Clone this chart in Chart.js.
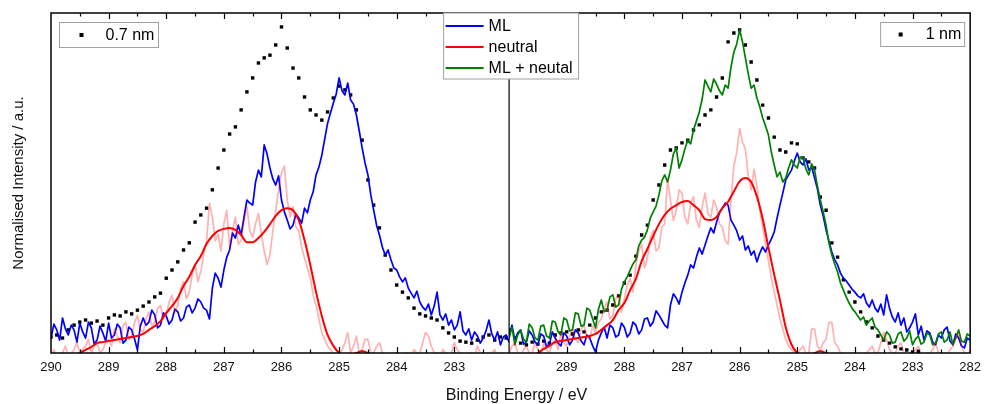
<!DOCTYPE html>
<html>
<head>
<meta charset="utf-8">
<script src="https://cdn.jsdelivr.net/npm/chart.js@4.4.0/dist/chart.umd.min.js"></script>
<style>
    html, body { margin: 0; padding: 0; background: #fff; }
    #wrap { width: 988px; height: 404px; }
</style>
</head>
<body>
<div id="wrap"><canvas id="xps" width="988" height="404"></canvas></div>
<script>
// binding energy grids, high -> low
// measured points and fitted components: 0.1 eV, noisy spectra: 0.05 eV
let energy_left = []
for (let e = 2900; e >= 2821; e--) energy_left.push(e / 10)
let energy_right = []
for (let e = 2900; e >= 2820; e--) energy_right.push(e / 10)
let energy_left_fine = []
for (let e = 29000; e >= 28205; e -= 5) energy_left_fine.push(e / 100)
let energy_right_fine = []
for (let e = 29000; e >= 28200; e -= 5) energy_right_fine.push(e / 100)

let tick_values = [290, 289.5, 289, 288.5, 288, 287.5, 287, 286.5, 286, 285.5, 285, 284.5, 284, 283.5, 283, 282.5, 282]

// ---- 0.7 nm panel ----
let dots_07 = [
    4.7, 5.3, 4.4, 6.8, 8.2, 9.1, 9.7, 8.8, 9.4, 8.2,
    10.3, 11.2, 10.9, 12.1, 11.5, 12.6, 13.8, 15, 16.5, 17.6,
    22, 24.4, 26.8, 30.3, 32.4, 38.5, 40.6, 42.6, 48, 54.4,
    59.7, 64.4, 66.5, 71.5, 76.8, 80.9, 85.3, 86.8, 87.6, 90.6,
    95.9, 89.7, 83.8, 80.9, 75.3, 71.5, 70, 68.5, 70.9, 75,
    78.5, 77.4, 75.9, 71.5, 62.6, 50.9, 43.5, 36.8, 28.8, 24.4,
    20, 17.9, 16.2, 13.2, 11.5, 10.9, 10.3, 9.7, 7.4, 5.9,
    4.7, 3.5, 3.2, 2.9, 3.8, 4.7, 5.3, 3.8, 4.7, 4.4
]
let neutral_left = [
    -2, -2, -2, -2, -1, 0, 0.9, 1.8, 2.9, 3.2,
    3.5, 3.8, 4.1, 4.4, 4.7, 5, 5.6, 6.8, 7.9, 9.4,
    11.8, 13.8, 16.2, 19.7, 22.4, 25.9, 28.5, 32.1, 34.4, 35.9,
    36.5, 36.8, 36.2, 34.7, 32.6, 32.6, 33.8, 35.6, 37.9, 40.3,
    42, 42.6, 42, 39.1, 33.2, 25.9, 17.9, 10.9, 5.3, 2.1,
    0, -1, -1, 0, 0.6, 0, -1, -1, -1, -1,
    -1, -1, -1, -1, -1, -1, -1, -1, -1, -1,
    -1, -1, -1, -1, -1, -1, -1, -1, -1, -1
]
let ml_left = [
    4.4, 8.5, 6.8, 3.8, 10.3, 7.1, 5.3, 8.2, 6.8, 3.2,
    8.8, 6.2, 4.4, 9.1, 7.4, 2.6, 3.8, 7.9, 5.9, 3.5,
    8.8, 4.4, 5.3, 8.5, 7.4, 2.9, 3.8, 7.6, 6.8, 4.1,
    0.9, 7.9, 10.3, 8.2, 9.1, 12.6, 11.2, 7.4, 8.2, 11.8,
    10.9, 8.5, 9.7, 12.9, 12.1, 9.4, 10.3, 13.5, 14.1, 11.8,
    13.2, 15.9, 15, 13.2, 12.6, 10, 19.1, 23.5, 22, 19.4,
    24.4, 28.2, 30.3, 35.3, 33.8, 37.6, 34.7, 40, 45, 44.1,
    43.5, 50.3, 53.8, 51.8, 61.2, 58.5, 54.4, 51.2, 49.4, 52.1,
    45, 41.5, 39.1, 36.5, 37.6, 40.9, 39.7, 38.2, 42.6, 41.2,
    45, 47.4, 52.4, 54.7, 58.2, 62.9, 67.6, 70.6, 73.5, 76.2,
    80.9, 77.1, 75.9, 79.4, 74.4, 73.2, 70, 65.3, 60.3, 55.9,
    52.4, 46.5, 42, 37.6, 34.7, 31.2, 28.8, 30.3, 27.4, 25,
    24.4, 22.4, 20.9, 22.1, 19.1, 17.6, 16.2, 18.2, 15, 13.5,
    12.6, 14.4, 11.2, 13.8, 17.9, 11.2, 9.7, 11.5, 8.2, 9.7,
    6.8, 8.2, 12.1, 6.5, 5.3, 7.1, 3.8, 6.2, 5, 2.9,
    4.4, 6.5, 9.7, 5.6, 3.8, 6.2, 2.4, 4.7, 5.3, 3.2
]
let raw_neutral_left = [
    -1, 1, -1, 0, 0, 2, -1, 0, 1, 3,
    0, 1, 2, 4, 0, 2, 3, 0, 1, 3,
    4, 2, 7, 5, 3, 8, 9, 4, 5, 9,
    11, 7, 6, 10, 12, 8, 9, 13, 14, 10,
    11, 15, 17, 12, 14, 19, 21, 16, 18, 23,
    26, 21, 24, 29, 33, 44, 40, 33, 35, 30,
    38, 42, 31, 36, 40, 32, 33, 39, 43, 36,
    34, 38, 41, 35, 30, 26, 29, 36, 42, 48,
    53, 55, 45, 40, 43, 37, 36, 31, 28, 25,
    22, 17, 14, 10, 6, 4, 2, 1, 0, -1,
    -1, 1, 3, 6, 0, 2, 5, 0, 1, 4,
    4, 0, 0, 2, 3, 0, 0, -1, -1, 0,
    0, -1, -1, 0, 0, -1, 1, 0, 0, 3,
    6, 5, 2, 0, 0, -1, 1, 0, -1, 0,
    3, 1, 0, -1, -1, 0, 0, -1, 2, 0,
    0, -1, -1, 0, 1, -1, 0, -1, -1, 0
]

// ---- 1 nm panel ----
let dots_1 = [
    6.8, 4.4, 2.9, 2.4, 3.2, 2.6, 3.5, 2.9, 5.3, 5.9,
    6.2, 5.6, 6.8, 6.2, 8.2, 10.3, 12.1, 12.6, 14.1, 16.8,
    20.6, 22.9, 28.5, 34.7, 37.6, 45, 49.4, 55.3, 59.7, 60.3,
    61.8, 62.6, 65.6, 67.1, 70, 71.5, 75.3, 80.9, 91.5, 94.1,
    95, 90.6, 85.6, 80.3, 72.9, 69.1, 63.5, 59.7, 59.1, 61.8,
    61.5, 57.4, 56.2, 54.4, 45.9, 42, 32.4, 28.2, 21.5, 17.9,
    15, 12.1, 9.1, 7.4, 5, 3.8, 2.9, 1.8, 1.2, 0.9,
    0.3, 0.5, -3, -3, -3, -3, -3, -3, -3, -3,
    -3
]
let neutral_right = [
    -2, -2, -2, -2, -1, 0, 1.2, 2.1, 3.2, 3.5,
    3.8, 4.1, 4.4, 4.7, 5, 5.6, 6.8, 8.2, 9.7, 12.6,
    14.7, 18.5, 21.8, 27, 30.6, 34.4, 37.9, 40.6, 42.4, 43.5,
    44.4, 44.7, 43.5, 42, 39.4, 39.1, 40, 42.6, 44.5, 47.5,
    50.5, 51.5, 50.3, 46, 39.5, 31, 23, 15.5, 7.6, 2.5,
    0, -1, -1, 0, 0.6, 0, -1, -1, -1, -1,
    -1, -1, -1, -1, -1, -1, -1, -1, -1, -1,
    -1, -1, -1, -1, -1, -1, -1, -1, -1, -1,
    -1
]
let ml_right = [
    5.3, 8.2, 3.8, 5.9, 6.8, 2.6, 3.2, 6.5, 5.3, 3.2,
    2.4, 5.6, 5, 1.8, 2.6, 6.2, 4.4, 2.9, 2.1, 5.9,
    5, 2.4, 3.8, 6.8, 5.9, 3.5, 2.4, 5.3, 4.4, 2.1,
    0.3, 3.8, 5.9, 7.6, 4.4, 8.2, 7.4, 4.7, 5.3, 8.8,
    7.6, 4.7, 5.9, 9.1, 8.2, 5.6, 6.8, 10, 10.3, 7.9,
    9.1, 12.4, 11.2, 9.7, 8.2, 7.4, 14.1, 17.4, 16.2, 14.4,
    17.9, 20.6, 22.9, 25.9, 25, 28.2, 30.9, 29.1, 31.8, 34.4,
    36.8, 35.3, 38.5, 41.2, 42.6, 44.1, 43.5, 39.1, 37.6, 35.9,
    33.2, 34.4, 30.3, 31.5, 28.8, 30, 26.8, 29.4, 31.2, 29.7,
    31.8, 33.5, 35.6, 39.7, 43.5, 47.1, 50.9, 52.4, 53.8, 56.5,
    58.8, 56.2, 55.3, 57.1, 53.8, 54.7, 51.5, 48.2, 43.5, 40.3,
    36.2, 32.9, 29.7, 27.4, 25.9, 23.5, 22, 21.2, 20, 18.8,
    17.9, 16.8, 16.2, 17.4, 14.7, 13.5, 15.6, 13.2, 12.1, 14.4,
    11.2, 17.1, 13.2, 10.6, 9.1, 11.8, 8.2, 10.3, 6.2, 7.4,
    9.1, 11.5, 5.3, 7.9, 3.8, 6.5, 5.9, 3.2, 2.4, 5.3,
    4.4, 6.8, 7.6, 3.5, 2.4, 5.6, 4.4, 2.1, 1.5, 4.4,
    3.8
]
let raw_neutral_right = [
    0, 2, 3, 0, -1, 1, 2, 0, 0, 3,
    1, -1, 3, 1, 0, 3, 4, 1, 6, 3,
    2, 5, 7, 4, 3, 7, 8, 5, 4, 8,
    6, 9, 10, 13, 15, 10, 11, 16, 17, 12,
    16, 20, 22, 18, 26, 30, 32, 25, 28, 34,
    36, 30, 31, 37, 38, 51, 45, 39, 42, 48,
    47, 40, 38, 44, 46, 39, 37, 43, 47, 41,
    40, 45, 43, 38, 37, 33, 32, 45, 55, 59,
    66, 62, 60, 52, 48, 54, 49, 42, 37, 32,
    27, 22, 18, 14, 10, 7, 4, 2, 1, 0,
    -1, 1, 2, 0, 0, 7, 7, 2, 1, 3,
    4, 9, 9, 3, 2, 0, 0, -1, -1, 0,
    0, -1, -1, 0, 0, 1, 2, 0, 0, 3,
    6, 4, 1, 0, 0, 2, 3, 0, -1, 0,
    0, 1, 2, 0, -1, 0, 0, 1, 3, 0,
    0, -1, -1, 1, 2, 4, 6, 2, 0, -1,
    1
]
let sum_right = [
    4.4, 7.6, 2.4, 5.3, 6.8, 4.1, 3.2, 8.5, 7.4, 4.4,
    3.8, 7.9, 8.2, 5, 4.4, 9.4, 9.1, 6.2, 5.3, 10.3,
    9.7, 6.5, 6.8, 11.8, 11.5, 7.9, 8.2, 13.2, 12.6, 10,
    7.4, 12.9, 15.6, 12.1, 12.6, 16.5, 17.1, 13.5, 14.1, 18.8,
    20.9, 22.4, 24.4, 26.2, 27.4, 31.5, 33.2, 34.1, 36.2, 39.7,
    41.5, 43.2, 46.5, 50.6, 52.4, 50.3, 53.8, 58.5, 60.3, 54.4,
    56.8, 60, 62.6, 61.5, 65.6, 68.2, 70.9, 74.7, 80.3, 78.5,
    76.8, 80.6, 79.1, 77.1, 75.9, 78.8, 77.9, 84.1, 88.5, 90.9,
    95, 91.5, 86.8, 82.1, 77.9, 78.8, 75, 72.4, 69.1, 66.8,
    64.1, 59.1, 55.3, 51.8, 53.2, 50.3, 51.5, 54.4, 56.8, 55.3,
    54.4, 57.6, 57.4, 54.1, 52.4, 55.6, 53.8, 49.1, 45, 41.5,
    37.6, 32.4, 28.8, 26.2, 23.8, 20.6, 18.5, 16.5, 14.7, 13.2,
    12.1, 10.9, 9.7, 10.6, 8.2, 9.4, 10.3, 7.6, 6.8, 5.3,
    3.8, 6.2, 5.3, 2.9, 3.2, 5.6, 6.2, 3.5, 4.4, 6.5,
    2.4, 4.1, 5, 2.6, 3.2, 5.9, 5.3, 2.4, 2.9, 5.6,
    6.2, 3.2, 3.8, 6.2, 2.4, 4.4, 6.8, 3.5, 3.2, 5.6,
    5
]

let font_family = "'Liberation Sans', Arial, sans-serif"
let pink = "rgba(255, 0, 0, 0.3)"

function points(energy, values) {
    return values.map((v, i) => ({ x: energy[i], y: v }))
}

function lineSet(label, energy, values, axis, color, order) {
    return {
        label: label,
        data: points(energy, values),
        xAxisID: axis,
        borderColor: color,
        borderWidth: 1.7,
        borderJoinStyle: "round",
        pointRadius: 0,
        order: order
    }
}

function smoothSet(label, energy, values, axis) {
    let set = lineSet(label, energy, values, axis, "#ff0000", 1)
    set.borderWidth = 2
    set.tension = 0.4
    set.cubicInterpolationMode = "monotone"
    return set
}

function dotSet(label, energy, values, axis) {
    return {
        label: label,
        data: points(energy, values),
        xAxisID: axis,
        showLine: false,
        pointStyle: "rect",
        pointRadius: 2.4,
        backgroundColor: "#000",
        borderWidth: 0,
        order: 5
    }
}

let datasets = [
    lineSet("raw 0.7", energy_left_fine, raw_neutral_left, "xl", pink, 0),
    smoothSet("neutral", energy_left, neutral_left, "xl"),
    lineSet("ML", energy_left_fine, ml_left, "xl", "#0000ff", 3),
    dotSet("0.7 nm", energy_left, dots_07, "xl"),

    lineSet("raw 1", energy_right_fine, raw_neutral_right, "xr", pink, 0),
    smoothSet("neutral", energy_right, neutral_right, "xr"),
    lineSet("ML + neutal", energy_right_fine, sum_right, "xr", "#008000", 2),
    lineSet("ML", energy_right_fine, ml_right, "xr", "#0000ff", 3),
    dotSet("1 nm", energy_right, dots_1, "xr")
]

function energyAxis(min, weight, hidden) {
    return {
        type: "linear",
        position: "bottom",
        stack: "energy",
        stackWeight: weight,
        min: min,
        max: 290,
        reverse: true,
        afterBuildTicks: scale => {
            scale.ticks = tick_values
                .filter(v => v >= scale.min - 1e-6 && v <= scale.max + 1e-6)
                .map(v => ({ value: v }))
        },
        afterFit: scale => { scale.height = 51 },
        ticks: {
            autoSkip: false,
            maxRotation: 0,
            padding: 7,
            color: "#111",
            font: { family: font_family, size: 13 },
            callback: v => (Number.isInteger(v) && v !== hidden) ? String(v) : ""
        },
        grid: { display: false, drawTicks: false },
        border: { display: false }
    }
}

// frame, inward ticks, divider, legends, x title
let decorations = {
    id: "decorations",
    afterDatasetsDraw(chart) {
        let ctx = chart.ctx
        let area = chart.chartArea
        let xl = chart.scales.xl
        let xr = chart.scales.xr

        ctx.save()
        ctx.strokeStyle = "#000"
        ctx.lineWidth = 1.5
        ctx.strokeRect(area.left, area.top, area.right - area.left, area.bottom - area.top)

        ctx.lineWidth = 1.2
        ctx.beginPath()
        ctx.moveTo(xl.right, area.top)
        ctx.lineTo(xl.right, area.bottom)
        ctx.stroke()

        for (let scale of [xl, xr]) {
            for (let t of scale.ticks) {
                let px = Math.round(scale.getPixelForValue(t.value)) + 0.5
                if (px < area.left + 2 || px > area.right - 2 || Math.abs(px - xl.right) < 2) continue
                let len = Number.isInteger(t.value) ? 6 : 3.5
                ctx.beginPath()
                ctx.moveTo(px, area.bottom)
                ctx.lineTo(px, area.bottom - len)
                ctx.moveTo(px, area.top)
                ctx.lineTo(px, area.top + len)
                ctx.stroke()
            }
        }

        ctx.font = `16px ${font_family}`
        ctx.textBaseline = "middle"
        ctx.textAlign = "left"

        // sample legends
        let boxes = [
            { x: area.left + 8.5, y: area.top + 9.5, w: 99, h: 25, text: "0.7 nm", mark: 22, label: 46 },
            { x: area.right - 89.5, y: area.top + 9.5, w: 84, h: 24, text: "1 nm", mark: 20, label: 45 }
        ]
        for (let b of boxes) {
            ctx.fillStyle = "#fff"
            ctx.fillRect(b.x, b.y, b.w, b.h)
            ctx.strokeStyle = "#a0a0a0"
            ctx.lineWidth = 1
            ctx.strokeRect(b.x, b.y, b.w, b.h)
            ctx.fillStyle = "#000"
            ctx.fillRect(b.x + b.mark - 2, b.y + b.h / 2 - 2, 4, 4)
            ctx.fillText(b.text, b.x + b.label, b.y + b.h / 2 + 0.5)
        }

        // component legend
        let lx = xl.right - 65.5
        let ly = area.top
        ctx.fillStyle = "#fff"
        ctx.fillRect(lx, ly, 135, 66)
        ctx.strokeStyle = "#a0a0a0"
        ctx.lineWidth = 1
        ctx.strokeRect(lx, ly, 135, 66)
        let entries = [["ML", "#0000ff"], ["neutral", "#ff0000"], ["ML + neutal", "#008000"]]
        entries.forEach(([text, color], i) => {
            let yy = ly + 13 + i * 21
            ctx.strokeStyle = color
            ctx.lineWidth = 2
            ctx.beginPath()
            ctx.moveTo(lx + 2, yy)
            ctx.lineTo(lx + 40, yy)
            ctx.stroke()
            ctx.fillStyle = "#000"
            ctx.fillText(text, lx + 45, yy + 1)
        })

        // x axis title
        ctx.textAlign = "center"
        ctx.textBaseline = "top"
        ctx.fillStyle = "#111"
        ctx.fillText("Binding Energy / eV", (area.left + area.right) / 2 + 6, area.bottom + 35)
        ctx.restore()
    }
}

new Chart(document.getElementById("xps"), {
    type: "line",
    data: { datasets: datasets },
    options: {
        responsive: false,
        animation: false,
        layout: { padding: { top: 13, right: 10, left: 0, bottom: 0 } },
        plugins: {
            legend: { display: false },
            tooltip: { enabled: false }
        },
        scales: {
            xl: energyAxis(282.05, 462, null),
            xr: energyAxis(282, 465, 290),
            y: {
                type: "linear",
                min: 0,
                max: 100,
                afterFit: scale => { scale.width = 51 },
                ticks: { display: false },
                grid: { display: false, drawTicks: false },
                border: { display: false },
                title: {
                    display: true,
                    text: "Normalised Intensity / a.u.",
                    color: "#111",
                    font: { family: font_family, size: 15 },
                    padding: { top: 10, bottom: 0 }
                }
            }
        }
    },
    plugins: [decorations]
})
</script>
</body>
</html>
